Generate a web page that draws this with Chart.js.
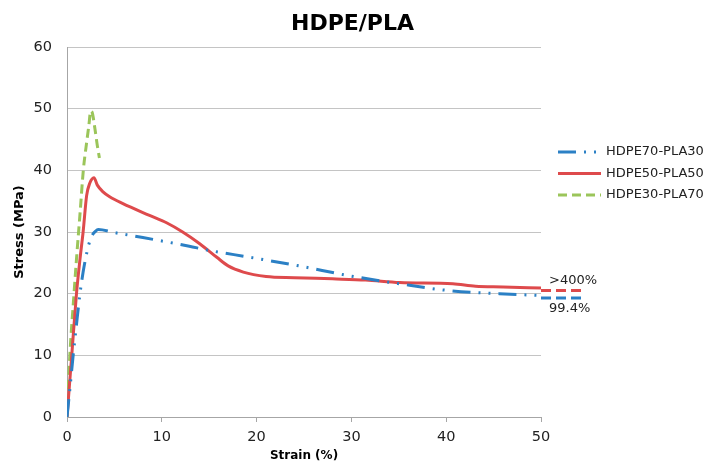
<!DOCTYPE html>
<html>
<head>
<meta charset="utf-8">
<script src="https://cdn.jsdelivr.net/npm/chart.js@4.4.1/dist/chart.umd.min.js"></script>
<style>
  html, body { margin: 0; padding: 0; background: #fff; }
</style>
</head>
<body>
<canvas id="stressChart" width="705" height="465"></canvas>
<script>
// data
const chartTitle = "HDPE/PLA";
const seriesNames = ["HDPE70-PLA30", "HDPE50-PLA50", "HDPE30-PLA70"];

const strain70 = [0, 0.3, 0.65, 1.0, 1.37, 1.7, 2.0, 2.3, 2.6, 3.0, 3.3, 5.0, 8.0, 9.8, 12.9, 14.7, 19.3, 24.5, 29.8, 35.1, 40.3, 45.6, 50];
const stress70 = [0, 4.5, 10, 15, 20, 23.5, 26, 28, 29.3, 30.1, 30.4, 29.9, 29.1, 28.6, 27.7, 27.1, 25.9, 24.5, 22.9, 21.6, 20.5, 20.0, 19.7];

const strain50 = [0, 0.25, 0.5, 1.0, 1.37, 1.7, 2.07, 2.4, 2.84, 3.2, 3.8, 4.5, 5.9, 8.7, 10.5, 12.2, 14.0, 15.8, 17.0, 18.6, 21.0, 24.0, 28.0, 31.5, 35.1, 40.7, 43.1, 46.0, 50];
const stress50 = [0, 5, 10, 20, 25.6, 30, 35.9, 37.9, 38.8, 37.6, 36.5, 35.7, 34.6, 32.7, 31.5, 30.0, 28.1, 25.9, 24.5, 23.5, 22.8, 22.6, 22.4, 22.2, 21.8, 21.6, 21.2, 21.1, 20.9];

const strain30 = [0, 0.3, 0.74, 1.02, 1.4, 1.72, 2.07, 2.3, 2.5, 2.65, 2.95, 3.2, 3.42];
const stress30 = [0, 10, 20, 26, 33.5, 40, 44.5, 47.2, 49.6, 49.4, 46.7, 44, 42];

// broken-axis continuation past 50 %
const extStrain = [50, 54.5];
const ext50Stress = [20.5, 20.5];
const ext70Stress = [19.3, 19.3];
const endNotes = [">400%", "99.4%"];

const xTicks = [0, 10, 20, 30, 40, 50];
const yTicks = [0, 10, 20, 30, 40, 50, 60];

const blue = "#2b80c5";
const red = "#de4a4c";
const green = "#9bc55a";

function pts(xs, ys) {
  return xs.map((x, i) => ({ x: x, y: ys[i] }));
}

const extras = {
  id: "extras",
  afterDraw(chart) {
    const ctx = chart.ctx;
    const sx = chart.scales.x, sy = chart.scales.y;
    ctx.save();

    ctx.fillStyle = "#000";
    ctx.font = "bold 22px 'DejaVu Sans'";
    ctx.textAlign = "center";
    ctx.textBaseline = "middle";
    ctx.fillText(chartTitle, chart.width / 2, 24);

    // legend
    ctx.font = "13px 'DejaVu Sans'";
    ctx.textAlign = "left";
    for (let i = 0; i < 3; i++) {
      const ds = chart.data.datasets[i];
      const ly = 152 + i * 21.5;
      ctx.strokeStyle = ds.borderColor;
      ctx.lineWidth = ds.borderWidth;
      ctx.setLineDash(ds.borderDash || []);
      ctx.beginPath();
      ctx.moveTo(558, ly);
      ctx.lineTo(601, ly);
      ctx.stroke();
      ctx.fillStyle = "#222";
      ctx.fillText(ds.label, 606, ly);
    }

    // end notes
    ctx.fillStyle = "#222";
    const nx = sx.getPixelForValue(extStrain[0]) + 8;
    ctx.fillText(endNotes[0], nx, sy.getPixelForValue(ext50Stress[0]) - 10);
    ctx.fillText(endNotes[1], nx, sy.getPixelForValue(ext70Stress[0]) + 11);
    ctx.restore();
  }
};

const lineBase = { showLine: true, pointRadius: 0, borderWidth: 3, fill: false, cubicInterpolationMode: "monotone" };

new Chart(document.getElementById("stressChart"), {
  type: "scatter",
  data: {
    datasets: [
      Object.assign({}, lineBase, { label: seriesNames[0], data: pts(strain70, stress70), borderColor: blue, borderDash: [18, 8, 2, 8, 2, 8] }),
      Object.assign({}, lineBase, { label: seriesNames[1], data: pts(strain50, stress50), borderColor: red }),
      Object.assign({}, lineBase, { label: seriesNames[2], data: pts(strain30, stress30), borderColor: green, borderDash: [9, 5] }),
      Object.assign({}, lineBase, { label: "", data: pts(extStrain, ext50Stress), borderColor: red, borderDash: [10, 5], clip: false }),
      Object.assign({}, lineBase, { label: "", data: pts(extStrain, ext70Stress), borderColor: blue, borderDash: [10, 5], clip: false })
    ]
  },
  options: {
    responsive: false,
    animation: false,
    devicePixelRatio: 1,
    layout: { padding: { top: 47, right: 164, left: 0, bottom: 0 } },
    plugins: {
      legend: { display: false },
      tooltip: { enabled: false },
      title: { display: false }
    },
    scales: {
      x: {
        type: "linear",
        min: xTicks[0],
        max: xTicks[xTicks.length - 1],
        ticks: { stepSize: xTicks[1] - xTicks[0], padding: 7, color: "#222", font: { family: "DejaVu Sans", size: 14.5 } },
        grid: { drawOnChartArea: false, drawTicks: true, tickLength: 5, color: "#a6a6a6" },
        border: { color: "#a6a6a6" },
        title: { display: true, text: "Strain (%)", color: "#000", font: { family: "DejaVu Sans", size: 12, weight: "bold" }, padding: { top: 0, bottom: 2 } },
        afterFit(scale) { scale.height = 48; }
      },
      y: {
        min: yTicks[0],
        max: yTicks[yTicks.length - 1],
        ticks: { stepSize: yTicks[1] - yTicks[0], padding: 15, color: "#222", font: { family: "DejaVu Sans", size: 14.5 } },
        grid: { drawTicks: false, color: "#c4c4c4" },
        border: { color: "#a6a6a6" },
        title: { display: true, text: "Stress (MPa)", color: "#000", font: { family: "DejaVu Sans", size: 13, weight: "bold" }, padding: { top: 12, bottom: 0 } },
        afterFit(scale) { scale.width = 67; }
      }
    }
  },
  plugins: [extras]
});
</script>
</body>
</html>
